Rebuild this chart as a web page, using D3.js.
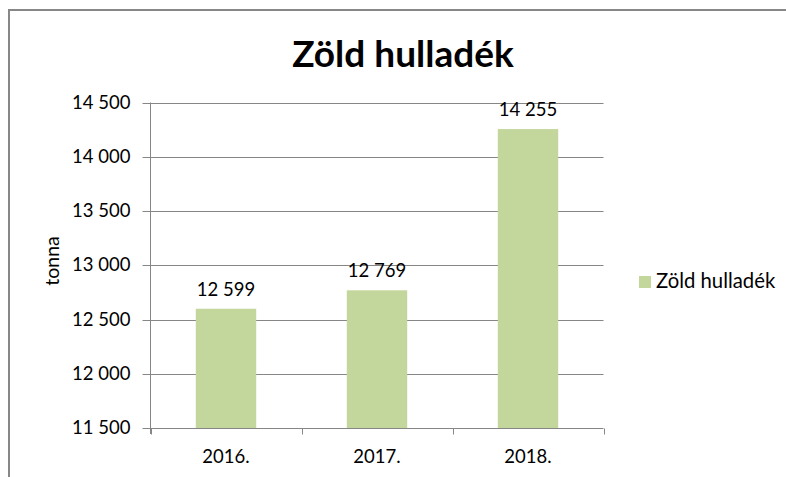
<!DOCTYPE html>
<html><head><meta charset="utf-8">
<script src="https://cdn.jsdelivr.net/npm/d3@7"></script>
<style>html,body{margin:0;padding:0;background:#fff;}svg{display:block;}</style>
</head><body>
<svg id="c" width="786" height="477"></svg>
<script>
const categories = ["2016.", "2017.", "2018."];
const values = [12599, 12769, 14255];
const yTicks = [11500, 12000, 12500, 13000, 13500, 14000, 14500];
const title = "Zöld hulladék";
const seriesName = "Zöld hulladék";
const yTitle = "tonna";

const fmt = v => d3.format(",")(v).replace(/,/g, " ");
const svg = d3.select("#c");
const font = "Lato, 'Open Sans', sans-serif";
const grey = "#868686";
const barColor = "#C3D69B";

// chart border
svg.append("rect").attr("x", 9).attr("y", 10).attr("width", 800).attr("height", 500)
  .attr("fill", "none").attr("stroke", "#878787").attr("stroke-width", 2);

const x = d3.scaleBand().domain(categories).range([150.5, 603.5]).paddingInner(0.6).paddingOuter(0.3);
const y = d3.scaleLinear().domain([11500, 14500]).range([428, 102.5]);

// gridlines
svg.append("g").selectAll("line").data(yTicks.slice(1)).join("line")
  .attr("x1", 150.5).attr("x2", 603.5)
  .attr("y1", d => Math.round(y(d)) + 0.5).attr("y2", d => Math.round(y(d)) + 0.5)
  .attr("stroke", grey).attr("stroke-width", 1);

// y axis
const yAxis = svg.append("g").attr("transform", "translate(150.5,0)")
  .call(d3.axisLeft(y).tickValues(yTicks).tickSize(8).tickPadding(12).tickFormat(fmt));
yAxis.select(".domain").attr("stroke", grey).attr("d", `M0,${y(14500)}V${y(11500)+6}`);
yAxis.selectAll(".tick line").attr("stroke", grey);
yAxis.selectAll(".tick").attr("transform", d => `translate(0,${Math.round(y(d)) + 0.5})`);
yAxis.selectAll(".tick text").attr("font-family", font).attr("font-size", 18.5).attr("fill", "#000");

// bars
svg.append("g").selectAll("rect").data(values).join("rect")
  .attr("x", (d, i) => x(categories[i])).attr("width", x.bandwidth())
  .attr("y", d => y(d)).attr("height", d => y(11500) - y(d))
  .attr("fill", barColor);

// x axis
const xb = Math.round(y(11500)) + 0.5;
svg.append("line").attr("x1", 150.5).attr("x2", 603.5).attr("y1", xb).attr("y2", xb).attr("stroke", grey);
const bounds = categories.map(c => x(c) - x.step() * x.paddingInner() / 2).concat([603.5]);
svg.append("g").selectAll("line").data(bounds).join("line")
  .attr("x1", d => Math.round(d) + 0.5).attr("x2", d => Math.round(d) + 0.5)
  .attr("y1", xb).attr("y2", xb + 6).attr("stroke", grey);
svg.append("g").selectAll("text").data(categories).join("text")
  .attr("x", d => x(d) + x.bandwidth() / 2).attr("y", 463)
  .attr("text-anchor", "middle").attr("font-family", font).attr("font-size", 18.5).attr("fill", "#000")
  .text(d => d);

// data labels
svg.append("g").selectAll("text").data(values).join("text")
  .attr("x", (d, i) => x(categories[i]) + x.bandwidth() / 2).attr("y", d => y(d) - 13)
  .attr("text-anchor", "middle").attr("font-family", font).attr("font-size", 18.5).attr("fill", "#000")
  .text(d => fmt(d));

// title
svg.append("text").attr("x", 403).attr("y", 67).attr("text-anchor", "middle")
  .attr("font-family", font).attr("font-weight", 700).attr("font-size", 37).attr("fill", "#000")
  .text(title);

// y title
svg.append("text").attr("transform", "translate(59,261) rotate(-90)").attr("text-anchor", "middle")
  .attr("font-family", font).attr("font-size", 19.5).attr("fill", "#000").text(yTitle);

// legend
svg.append("rect").attr("x", 639).attr("y", 276).attr("width", 12).attr("height", 12).attr("fill", barColor);
svg.append("text").attr("x", 656).attr("y", 288).attr("font-family", font).attr("font-size", 20.3)
  .attr("fill", "#000").text(seriesName);
</script>
</body></html>
